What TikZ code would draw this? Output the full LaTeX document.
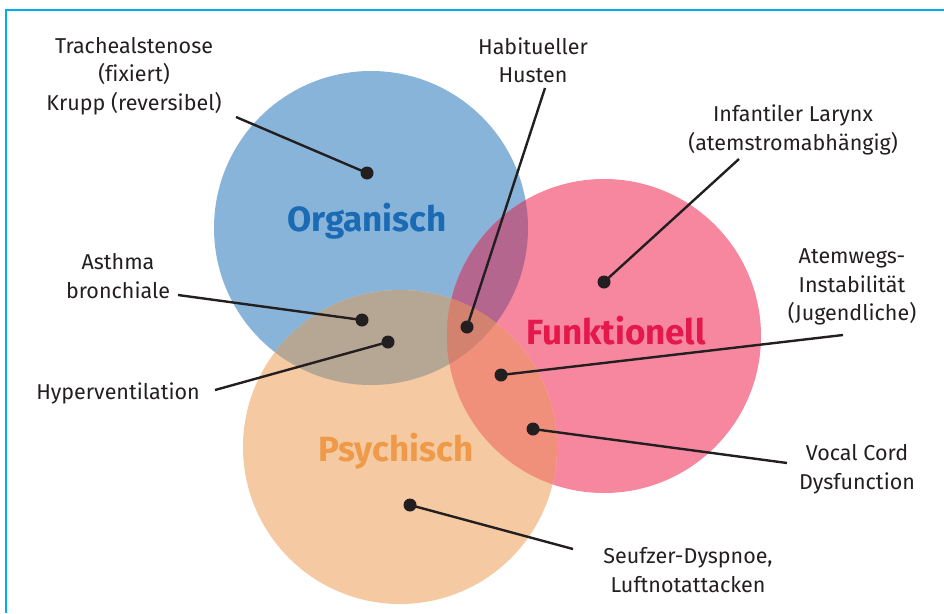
\documentclass[tikz,border=0pt]{standalone}
\usepackage{fontspec}
\setmainfont{Fira Sans}[Ligatures=NoCommon]
\definecolor{frame}{HTML}{00AEEF}
\definecolor{cblue}{HTML}{88B4DA}
\definecolor{cpink}{HTML}{F6879F}
\definecolor{cpeach}{HTML}{F5C9A1}
\definecolor{bluepeach}{HTML}{B6A794}
\definecolor{bluepink}{HTML}{B5668F}
\definecolor{pinkpeach}{HTML}{F0907A}
\definecolor{allthree}{HTML}{D3826F}
\definecolor{ink}{HTML}{231F20}
\definecolor{tblue}{HTML}{1A6AB4}
\definecolor{tred}{HTML}{E5184C}
\definecolor{torange}{HTML}{EE9A48}
\begin{document}
\begin{tikzpicture}[x=1pt,y=-1pt,
  lbl/.style={font=\fontsize{21.5}{28.5}\selectfont, text=ink, align=center, inner sep=0pt},
  big/.style={font=\fontsize{35}{36}\selectfont\bfseries, inner sep=0pt},
  dot/.style={circle, fill=ink, inner sep=0pt, minimum size=13pt},
  lead/.style={draw=ink, line width=2.4pt}]
\useasboundingbox (0,0) rectangle (944,613);

% frame lines
\draw[frame, line width=1.6pt] (944,10) -- (6,10) -- (6,613);

% circle centres
\coordinate (O) at (371,228);
\coordinate (F) at (604,336);
\coordinate (P) at (400,447);
\def\rr{157}

% circles
\fill[cblue] (O) circle (\rr);
\fill[cpink] (F) circle (\rr);
\fill[cpeach] (P) circle (\rr);

% pairwise overlaps
\begin{scope}
  \clip (O) circle (\rr);
  \fill[bluepeach] (P) circle (\rr);
  \fill[bluepink] (F) circle (\rr);
\end{scope}
\begin{scope}
  \clip (F) circle (\rr);
  \fill[pinkpeach] (P) circle (\rr);
\end{scope}
% triple overlap
\begin{scope}
  \clip (O) circle (\rr);
  \clip (F) circle (\rr);
  \fill[allthree] (P) circle (\rr);
\end{scope}

% circle titles
\node[big, text=tblue] (org) at (367,221) {Organisch};
\node[big, text=tred] (fun) at (616,331) {Funktionell};
\node[big, text=torange] (psy) at (396,451) {Psychisch};

% labels
\node[lbl] (trach) at (134,76) {Trachealstenose\\(fixiert)\\Krupp (reversibel)};
\node[lbl] (habit) at (533,60) {Habitueller\\Husten};
\node[lbl] (larynx) at (793,130) {Infantiler Larynx\\(atemstromabhängig)};
\node[lbl] (atem) at (852,287) {Atemwegs-\\Instabilität\\(Jugendliche)};
\node[lbl] (vocal) at (857,469) {Vocal Cord\\Dysfunction};
\node[lbl] (seuf) at (688,570) {Seufzer-Dyspnoe,\\Luftnotattacken};
\node[lbl] (asth) at (118,276) {Asthma\\bronchiale};
\node[lbl] (hyper) at (118,393) {Hyperventilation};

% dots
\node[dot] (d1) at (367,173) {};
\node[dot] (d2) at (467,327) {};
\node[dot] (d3) at (604,282) {};
\node[dot] (d4) at (501,375) {};
\node[dot] (d5) at (533,429) {};
\node[dot] (d6) at (410,505) {};
\node[dot] (d7) at (362,320) {};
\node[dot] (d8) at (388,342) {};

% leader starts
\coordinate (s1) at (236,117);
\coordinate (s2) at (545,88);
\coordinate (s3) at (739,159);
\coordinate (s4) at (843,335);
\coordinate (s5) at (787,463);
\coordinate (s6) at (573,549);
\coordinate (s7) at (178,295);
\coordinate (s8) at (215,390);

% leader lines
\draw[lead] (s1) -- (d1.center);
\draw[lead] (s2) -- (d2.center);
\draw[lead] (s3) -- (d3.center);
\draw[lead] (s4) -- (d4.center);
\draw[lead] (s5) -- (d5.center);
\draw[lead] (s6) -- (d6.center);
\draw[lead] (s7) -- (d7.center);
\draw[lead] (s8) -- (d8.center);
\end{tikzpicture}
\end{document}
